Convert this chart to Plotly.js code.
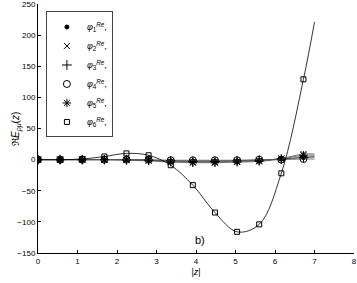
<!DOCTYPE html>
<html><head><meta charset="utf-8">
<script src="https://cdn.plot.ly/plotly-3.0.1.min.js"></script>
<style>body{margin:0;padding:0;background:#fff}#chart{width:357px;height:283px}</style>
</head><body><div id="chart"></div>
<script>
// sample positions |z|
const zMarkers = [0, 0.56, 1.12, 1.68, 2.24, 2.80, 3.36, 3.92, 4.48, 5.04, 5.60, 6.16, 6.72];
const zEnd = 7.0;
// series values at marker positions
const phi1 = [0, 0, 0, 0, 0, -1, -2, -2, -2, -2, -1, 1, 3];
const phi2 = [0, 0, 0, 0, 0, -1, -3, -4, -4, -3, -2, 2, 9];
const phi3 = [0, 0, 0, 0, 0, -1, -2, -3, -3, -2, -1, 1, 4];
const phi4 = [0, 0, 0, 0, 0, 0, -1, -1, -1, -1, 0, 0, 1];
const phi5 = [0, 0, 0, 0, -1, -2, -4, -5, -5, -4, -3, 1, 7];
const phi6 = [0, 0, 1, 5, 10, 7, -9, -41, -85, -116, -104, -22, 129];
// curve values at the right end of the lines (|z| = 7)
const endVals = {phi1: 4, phi2: 9, phi3: 5, phi4: 1, phi5: 7, phi6: 221};
const names = ['phi1','phi2','phi3','phi4','phi5','phi6'];
const series = {phi1, phi2, phi3, phi4, phi5, phi6};
const symbols = ['circle','x-thin-open','cross-thin-open','circle-open','asterisk-open','square-open'];
const sizes = [4, 6, 7, 7, 7, 5];
const labels = names.map((n,i)=>'<i>φ</i><sub>'+(i+1)+'</sub><sup><i>Re</i></sup>,');

const traces = [];
names.forEach((n,i)=>{
  const xs = zMarkers.concat([zEnd]);
  const ys = series[n].concat([endVals[n]]);
  traces.push({x: xs, y: ys, mode:'lines', line:{color: i===5?'#000':'#555', width:0.8, shape:'spline', smoothing:1},
    showlegend:false, hoverinfo:'skip'});
  traces.push({x: zMarkers, y: series[n], mode:'markers', name: labels[i],
    marker:{symbol: symbols[i], size: sizes[i], color:'#000', line:{color:'#000', width:1}}});
});

const layout = {
  width:357, height:283,
  margin:{l:38, r:3, t:4, b:30},
  paper_bgcolor:'#fff', plot_bgcolor:'#fff',
  font:{family:'Liberation Sans, Arial, sans-serif', size:8, color:'#000'},
  xaxis:{range:[0,8], dtick:1, tick0:0, ticks:'inside', ticklen:3, tickcolor:'#000',
    showline:true, linecolor:'#000', linewidth:1, showgrid:false, zeroline:false, ticklabeloverflow:'allow',
    title:{text:'|<i>z</i>|', font:{size:9}, standoff:4}},
  yaxis:{range:[-150,250], dtick:50, tick0:0, ticks:'inside', ticklen:3, tickcolor:'#000',
    showline:true, linecolor:'#000', linewidth:1, showgrid:false, zeroline:false, ticklabeloverflow:'allow'},
  showlegend:true,
  legend:{x:0.025, y:0.97, xanchor:'left', yanchor:'top', bgcolor:'#fff', bordercolor:'#444', borderwidth:1,
    font:{size:9}, itemwidth:30, tracegroupgap:0},
  annotations:[
    {text:'b)', xref:'x', yref:'y', x:4.11, y:-129, showarrow:false, font:{size:11}},
    {text:'ℜ<i>E</i><sub><i>ρμ</i></sub>(<i>z</i>)', xref:'paper', yref:'paper', x:-0.095, y:0.5,
      textangle:-90, showarrow:false, font:{size:10}}
  ]
};
Plotly.newPlot('chart', traces, layout, {displayModeBar:false, staticPlot:true});
</script></body></html>
